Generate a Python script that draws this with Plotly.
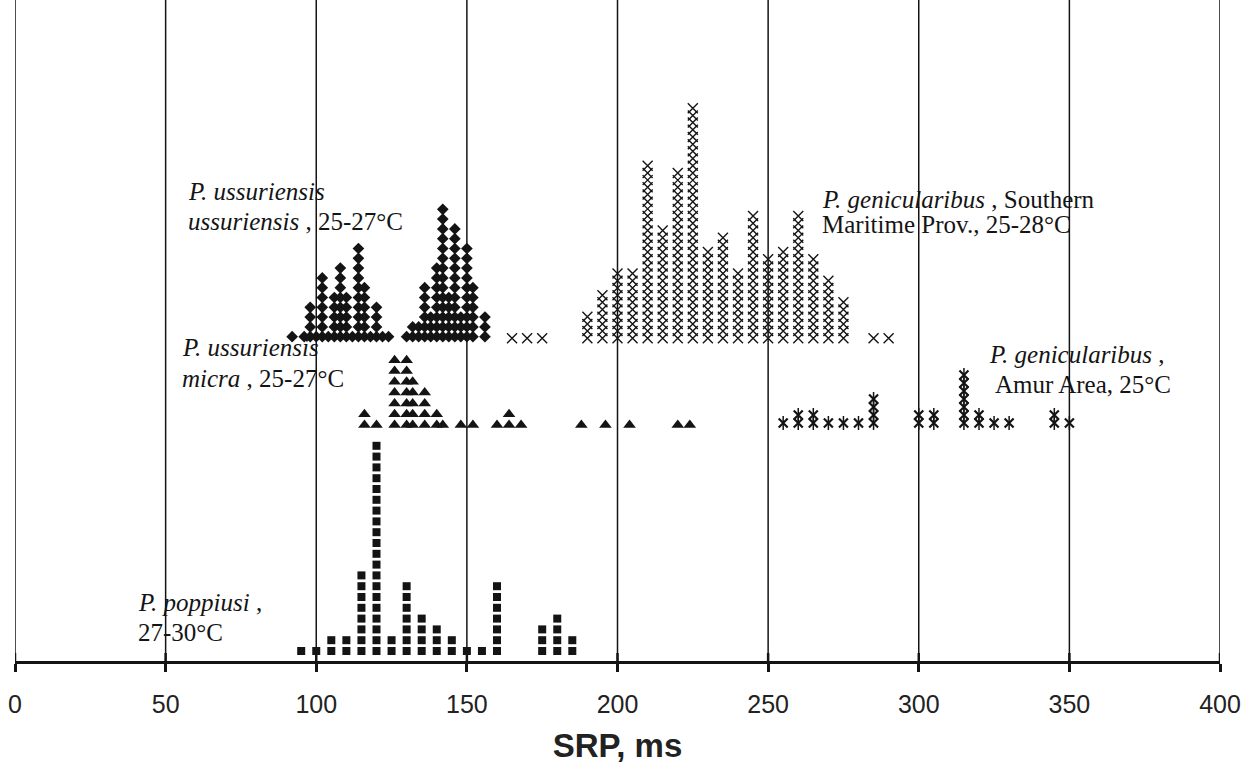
import plotly.graph_objects as go

# Song repetition period (SRP) distributions, one dot per recorded song.
# Counts per SRP bin (ms).
poppiusi_srp = [95, 100, 105, 110, 115, 120, 125, 130, 135, 140, 145, 150, 155, 160, 175, 180, 185]
poppiusi_n = [1, 1, 2, 2, 8, 20, 2, 7, 4, 3, 2, 1, 1, 7, 3, 4, 2]

uss_srp = [92, 96, 98, 100, 102, 104, 106, 108, 110, 112, 114, 116, 118, 120, 122, 124,
           130, 132, 134, 136, 138, 140, 142, 144, 146, 148, 150, 152, 156]
uss_n = [1, 1, 4, 1, 7, 1, 5, 8, 5, 1, 10, 6, 1, 4, 1, 1,
         1, 2, 2, 6, 3, 8, 14, 5, 12, 3, 10, 6, 3]

micra_srp = [116, 120, 126, 130, 132, 136, 140, 142, 148, 152, 160, 164, 168, 188, 196, 204, 220, 224]
micra_n = [2, 1, 7, 7, 5, 4, 2, 1, 1, 1, 1, 2, 1, 1, 1, 1, 1, 1]

south_srp = [165, 170, 175, 190, 195, 200, 205, 210, 215, 220, 225, 230, 235, 240, 245,
             250, 255, 260, 265, 270, 275, 285, 290]
south_n = [1, 1, 1, 4, 7, 10, 10, 25, 16, 24, 33, 13, 15, 10, 18,
           12, 13, 18, 12, 9, 6, 1, 1]

amur_srp = [255, 260, 265, 270, 275, 280, 285, 300, 305, 315, 320, 325, 330, 345, 350]
amur_n = [1, 2, 2, 1, 1, 1, 4, 2, 2, 7, 2, 1, 1, 2, 1]

x_ticks = [0, 50, 100, 150, 200, 250, 300, 350, 400]

# Plot geometry in pixels
W, H = 1244, 765
L, R, T, B = 15, 24, 0, 104
PW, PH = W - L - R, H - T - B
INK = "#141414"


def stack(srp, counts, base, step):
    xs, ys = [], []
    for v, n in zip(srp, counts):
        for k in range(n):
            xs.append(v)
            ys.append(base + k * step)
    return xs, ys


def px(x, y):
    return (x - L) / PW, (T + PH - y) / PH


fig = go.Figure()

# P. poppiusi - squares
xs, ys = stack(poppiusi_srp, poppiusi_n, 10, 10.8)
fig.add_trace(go.Scatter(x=xs, y=ys, mode="markers",
                         marker=dict(symbol="square", size=8, color=INK)))

# P. ussuriensis ussuriensis - diamonds
xs, ys = stack(uss_srp, uss_n, 324.3, 9.8)
fig.add_trace(go.Scatter(x=xs, y=ys, mode="markers",
                         marker=dict(symbol="diamond", size=9, color=INK)))

# P. ussuriensis micra - triangles
xs, ys = stack(micra_srp, micra_n, 236, 10.8)
fig.add_trace(go.Scatter(x=xs, y=ys, mode="markers",
                         marker=dict(symbol="triangle-up", size=11, color=INK)))

# P. genicularibus, Southern Maritime Prov. - crosses
xs, ys = stack(south_srp, south_n, 322.7, 7.19)
fig.add_trace(go.Scatter(x=xs, y=ys, mode="markers",
                         marker=dict(symbol="x-thin-open", size=10, color=INK,
                                     line=dict(width=1.4))))

# P. genicularibus, Amur Area - stars (cross + vertical bar)
xs, ys = stack(amur_srp, amur_n, 238, 8)
fig.add_trace(go.Scatter(x=xs, y=ys, mode="markers",
                         marker=dict(symbol="x-thin-open", size=9, color=INK,
                                     line=dict(width=2.2))))
fig.add_trace(go.Scatter(x=xs, y=ys, mode="markers",
                         marker=dict(symbol="line-ns-open", size=10, color=INK,
                                     line=dict(width=1.5))))

# Vertical reference lines and tick marks crossing the axis
shapes = []
for v in x_ticks:
    shapes.append(dict(type="line", xref="x", yref="paper", x0=v, x1=v, y0=0, y1=1,
                       line=dict(color=INK, width=1.5), layer="below"))
    shapes.append(dict(type="line", xref="x", yref="paper", x0=v, x1=v,
                       y0=0, y1=8 / PH, line=dict(color=INK, width=2.5), layer="above"))

serif = dict(family="Liberation Serif, Times New Roman, serif", size=25, color=INK)
labels = [
    (186, 192, "<i>P. ussuriensis</i>"),
    (186, 222, "<i>ussuriensis</i> , 25-27°C"),
    (820, 200, "<i>P. genicularibus</i> , Southern"),
    (820, 224, "Maritime Prov., 25-28°C"),
    (180, 347, "<i>P. ussuriensis</i>"),
    (180, 378, "<i>micra</i> , 25-27°C"),
    (987, 355, "<i>P. genicularibus</i> ,"),
    (993, 385, "Amur Area, 25°C"),
    (136, 602, "<i>P. poppiusi</i> ,"),
    (136, 632, "27-30°C"),
]
annotations = []
for lx, ly, txt in labels:
    ax, ay = px(lx, ly)
    annotations.append(dict(x=ax, y=ay, xref="paper", yref="paper", text=txt,
                            showarrow=False, xanchor="left", yanchor="middle",
                            font=serif))

fig.update_layout(
    width=W, height=H,
    margin=dict(l=L, r=R, t=T, b=B, pad=0),
    paper_bgcolor="white", plot_bgcolor="white",
    showlegend=False,
    shapes=shapes,
    annotations=annotations,
    xaxis=dict(range=[0, 400], tickvals=x_ticks, showgrid=False, zeroline=False,
               showline=True, linewidth=3, linecolor=INK,
               ticks="outside", ticklen=8, tickwidth=2.5, tickcolor=INK,
               ticklabelstandoff=11,
               tickfont=dict(family="Liberation Sans, Arial, sans-serif", size=25, color="#222"),
               title=dict(text="<b>SRP, ms</b>", standoff=17,
                          font=dict(family="Liberation Sans, Arial, sans-serif", size=33, color="#222"))),
    yaxis=dict(range=[0, PH], visible=False, fixedrange=True),
)

fig.write_html("out.html")
